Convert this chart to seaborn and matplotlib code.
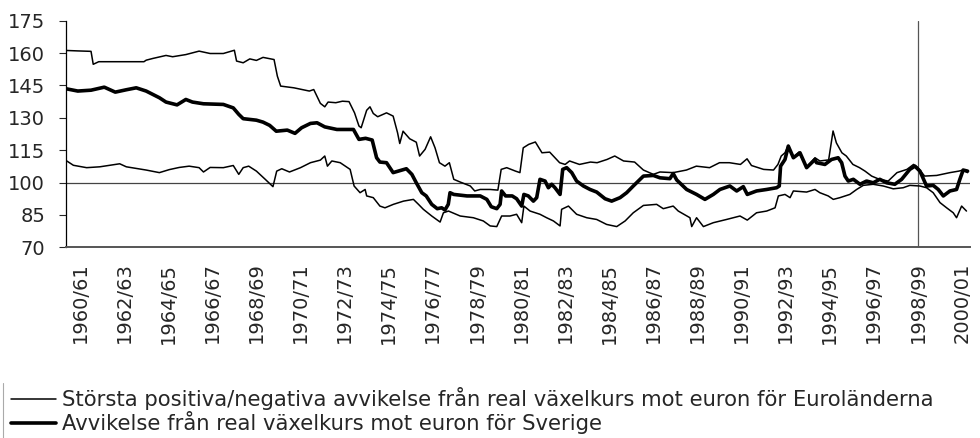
import numpy as np
import pandas as pd
import matplotlib
matplotlib.use('Agg')
import matplotlib.pyplot as plt
from matplotlib.lines import Line2D
import seaborn as sns

# övre gräns (största positiva avvikelse)
upper_years = [1960.4, 1960.9, 1961.5, 1961.6, 1961.85, 1963.9, 1964.0, 1964.3, 1964.9, 1965.2,
               1965.8, 1966.4, 1966.9, 1967.5, 1968.0, 1968.1, 1968.4, 1968.7, 1969.0, 1969.3,
               1969.8, 1969.95, 1970.1, 1970.7, 1971.4, 1971.6, 1971.9, 1972.1, 1972.25, 1972.6,
               1972.9, 1973.2, 1973.45, 1973.65, 1973.75, 1974.0, 1974.15, 1974.3, 1974.5, 1974.9,
               1975.2, 1975.4, 1975.5, 1975.65, 1975.95, 1976.25, 1976.4, 1976.65, 1976.9, 1977.1,
               1977.3, 1977.55, 1977.75, 1977.95, 1978.25, 1978.7, 1978.9, 1979.15, 1979.6, 1979.95,
               1980.1, 1980.35, 1980.75, 1980.95, 1981.1, 1981.35, 1981.65, 1981.95, 1982.3, 1982.75,
               1983.0, 1983.2, 1983.65, 1984.15, 1984.45, 1984.9, 1985.25, 1985.65, 1986.15, 1986.55,
               1987.0, 1987.3, 1987.9, 1988.5, 1988.95, 1989.55, 1990.0, 1990.45, 1990.95, 1991.25,
               1991.45, 1992.0, 1992.45, 1992.65, 1992.8, 1992.97, 1993.12, 1993.35, 1993.6, 1993.95,
               1994.33, 1994.55, 1994.95, 1995.15, 1995.3, 1995.55, 1995.75, 1996.05, 1996.35, 1996.6,
               1996.9, 1997.25, 1997.65, 1998.05, 1998.5, 1998.8, 1999.0, 1999.3, 1999.85, 2000.45,
               2000.85, 2001.05, 2001.25]
upper_vals = [161.2, 161.0, 160.8, 154.8, 156.0, 156.0, 156.7, 157.5, 158.9, 158.3,
              159.3, 160.9, 159.8, 159.8, 161.3, 156.3, 155.5, 157.3, 156.6, 158.0,
              157.0, 149.3, 144.7, 143.9, 142.4, 143.1, 136.7, 135.1, 137.3, 137.0,
              137.7, 137.5, 132.3, 126.2, 125.4, 133.5, 135.1, 132.0, 130.5, 132.3,
              130.8, 123.1, 118.1, 123.8, 120.3, 118.7, 112.3, 115.4, 121.2, 116.1,
              109.2, 107.6, 109.2, 101.5, 100.2, 98.4, 96.1, 96.8, 96.8, 96.5,
              106.1, 106.9, 105.3, 104.6, 116.1, 117.7, 118.8, 113.8, 114.1, 109.2,
              108.4, 110.0, 108.4, 109.5, 109.2, 110.7, 112.3, 110.0, 109.5, 105.8,
              103.8, 104.9, 104.6, 105.8, 107.6, 106.9, 109.2, 109.2, 108.4, 111.0,
              107.9, 106.1, 105.8, 108.4, 112.3, 113.8, 117.2, 111.5, 114.1, 106.9,
              111.5, 110.0, 110.5, 123.9, 118.4, 113.8, 112.3, 108.4, 106.9, 105.3,
              103.0, 101.5, 100.7, 104.6, 106.1, 108.4, 106.9, 103.0, 103.3, 104.6,
              105.3, 105.8, 104.6]

# Sverige
sweden_years = [1960.4, 1960.9, 1961.5, 1962.1, 1962.6, 1963.1, 1963.55, 1964.0, 1964.6, 1964.9,
                1965.4, 1965.8, 1966.1, 1966.6, 1967.5, 1967.95, 1968.2, 1968.4, 1969.0, 1969.3,
                1969.6, 1969.9, 1970.4, 1970.75, 1971.05, 1971.45, 1971.75, 1972.1, 1972.65, 1973.4,
                1973.65, 1973.95, 1974.25, 1974.45, 1974.6, 1974.9, 1975.2, 1975.6, 1975.8, 1976.05,
                1976.25, 1976.5, 1976.7, 1976.95, 1977.2, 1977.4, 1977.55, 1977.7, 1977.78, 1977.95,
                1978.55, 1979.15, 1979.45, 1979.65, 1979.9, 1980.05, 1980.12, 1980.3, 1980.6, 1980.8,
                1981.03, 1981.13, 1981.33, 1981.56, 1981.71, 1981.86, 1982.09, 1982.24, 1982.39, 1982.54,
                1982.77, 1982.89, 1983.07, 1983.3, 1983.52, 1983.83, 1984.13, 1984.43, 1984.81, 1985.11,
                1985.49, 1985.79, 1986.09, 1986.32, 1986.55, 1987.0, 1987.3, 1987.75, 1987.9, 1988.06,
                1988.51, 1988.96, 1989.34, 1989.72, 1990.02, 1990.47, 1990.78, 1991.08, 1991.26, 1991.68,
                1992.14, 1992.59, 1992.71, 1992.77, 1992.97, 1993.12, 1993.35, 1993.65, 1993.95, 1994.33,
                1994.4, 1994.78, 1995.08, 1995.38, 1995.54, 1995.69, 1995.84, 1996.07, 1996.37, 1996.67,
                1996.97, 1997.27, 1997.58, 1997.95, 1998.26, 1998.63, 1998.86, 1999.09, 1999.39, 1999.69,
                1999.92, 2000.15, 2000.45, 2000.75, 2000.9, 2001.05, 2001.25]
sweden_vals = [143.4, 142.4, 142.8, 144.2, 141.9, 143.0, 143.9, 142.4, 139.3, 137.3,
               136.0, 138.5, 137.3, 136.5, 136.2, 134.6, 131.6, 129.6, 128.9, 128.0,
               126.5, 123.8, 124.3, 122.8, 125.4, 127.4, 127.7, 125.8, 124.6, 124.6,
               120.0, 120.5, 119.7, 111.5, 109.5, 109.2, 104.6, 105.8, 106.4, 103.8,
               99.9, 95.3, 93.8, 89.9, 87.9, 88.3, 87.3, 89.9, 95.3, 94.5,
               93.8, 93.8, 92.2, 88.8, 87.9, 89.9, 96.1, 93.8, 93.8, 92.5,
               89.1, 94.5, 93.8, 91.4, 93.0, 101.5, 100.7, 97.6, 99.2, 97.6,
               94.5, 106.1, 106.9, 104.6, 100.7, 98.4, 96.8, 95.6, 92.5, 91.4,
               93.0, 95.3, 98.4, 100.7, 103.0, 103.3, 102.2, 101.8, 104.2, 101.2,
               96.8, 94.5, 92.2, 94.5, 96.8, 98.4, 96.1, 98.1, 94.5, 96.1,
               96.8, 97.6, 98.4, 107.6, 110.7, 116.9, 111.5, 113.8, 106.9, 110.7,
               109.2, 108.4, 110.7, 111.5, 109.2, 103.0, 100.7, 101.5, 99.2, 100.7,
               99.9, 101.5, 99.9, 99.2, 101.5, 106.1, 107.6, 105.3, 98.4, 98.7,
               96.8, 93.8, 96.1, 96.8, 101.5, 105.8, 105.3]

# undre gräns (största negativa avvikelse)
lower_years = [1960.4, 1960.7, 1961.3, 1961.9, 1962.8, 1963.1, 1964.0, 1964.6, 1965.05, 1965.5,
               1965.95, 1966.4, 1966.6, 1966.9, 1967.5, 1967.95, 1968.2, 1968.4, 1968.65, 1969.0,
               1969.4, 1969.75, 1969.92, 1970.15, 1970.5, 1971.0, 1971.45, 1971.9, 1972.1, 1972.22,
               1972.42, 1972.8, 1973.25, 1973.43, 1973.7, 1973.93, 1974.0, 1974.3, 1974.6, 1974.83,
               1975.21, 1975.67, 1976.12, 1976.35, 1976.57, 1976.95, 1977.33, 1977.48, 1977.71, 1978.24,
               1978.84, 1979.29, 1979.6, 1979.9, 1980.12, 1980.5, 1980.8, 1981.03, 1981.13, 1981.41,
               1981.86, 1982.16, 1982.47, 1982.77, 1982.84, 1983.15, 1983.52, 1983.98, 1984.43, 1984.88,
               1985.34, 1985.72, 1986.09, 1986.55, 1987.15, 1987.45, 1987.9, 1988.13, 1988.66, 1988.74,
               1988.96, 1989.27, 1989.72, 1990.32, 1990.93, 1991.26, 1991.68, 1992.14, 1992.52, 1992.67,
               1992.97, 1993.2, 1993.35, 1993.95, 1994.33, 1994.55, 1994.93, 1995.16, 1995.46, 1995.91,
               1996.22, 1996.52, 1996.97, 1997.43, 1997.88, 1998.33, 1998.63, 1999.09, 1999.39, 1999.69,
               2000.0, 2000.3, 2000.6, 2000.75, 2000.98, 2001.2]
lower_vals = [110.0, 108.0, 106.9, 107.3, 108.7, 107.3, 105.8, 104.6, 106.0, 107.0,
              107.6, 106.9, 104.9, 107.0, 106.9, 107.9, 103.8, 106.9, 107.6, 105.3,
              101.5, 98.1, 105.3, 106.4, 104.9, 106.9, 109.2, 110.4, 112.3, 107.6,
              110.0, 109.2, 106.1, 98.4, 95.3, 96.8, 93.8, 93.0, 89.1, 88.3,
              89.9, 91.4, 92.2, 89.9, 87.6, 84.5, 81.7, 86.0, 86.8, 84.5,
              83.7, 82.2, 79.9, 79.6, 84.5, 84.5, 85.3, 81.4, 89.1, 86.8,
              85.3, 83.7, 82.2, 79.9, 87.6, 89.1, 85.3, 83.7, 82.9, 80.6,
              79.6, 82.2, 86.0, 89.4, 89.9, 87.9, 89.1, 86.8, 83.7, 79.6,
              83.7, 79.6, 81.4, 82.9, 84.5, 82.6, 86.0, 86.8, 88.3, 93.8,
              94.5, 93.0, 96.1, 95.6, 96.8, 95.3, 93.8, 92.2, 93.0, 94.5,
              96.8, 98.7, 99.2, 98.4, 97.1, 97.6, 98.7, 98.4, 97.6, 95.3,
              90.7, 88.3, 86.0, 83.7, 89.1, 86.8]

tick_years = list(range(1961, 2002, 2))
tick_labels = [f"{y - 1}/{str(y)[2:]}" for y in tick_years]
y_ticks = [70, 85, 100, 115, 130, 145, 160, 175]

label_band = 'Största positiva/negativa avvikelse från real växelkurs mot euron för Euroländerna'
label_swe = 'Avvikelse från real växelkurs mot euron för Sverige'

sns.set_style('white')
plt.rcParams['font.family'] = ['DejaVu Sans']

fig = plt.figure(figsize=(9.8, 4.38), dpi=100)
ax = fig.add_axes([66 / 980, 1 - 247.3 / 438, 904 / 980, 226.6 / 438])

df_up = pd.DataFrame({'year': upper_years, 'value': upper_vals})
df_swe = pd.DataFrame({'year': sweden_years, 'value': sweden_vals})
df_low = pd.DataFrame({'year': lower_years, 'value': lower_vals})

ax.axhline(100, color='#444444', lw=0.9, zorder=1)
ax.axvline(1999, color='#555555', lw=0.9, zorder=1)

sns.lineplot(data=df_up, x='year', y='value', ax=ax, color='black', lw=1.1, label=label_band)
sns.lineplot(data=df_low, x='year', y='value', ax=ax, color='black', lw=1.1, label='_nolegend_')
sns.lineplot(data=df_swe, x='year', y='value', ax=ax, color='black', lw=2.6, label=label_swe)

ax.set_xlim(1960.365, 2001.36)
ax.set_ylim(70, 175)
ax.set_xticks(tick_years)
ax.set_xticklabels(tick_labels, rotation=90, fontsize=14)
ax.set_yticks(y_ticks)
ax.set_yticklabels([str(v) for v in y_ticks], fontsize=14)
ax.set_xlabel('')
ax.set_ylabel('')
ax.tick_params(axis='x', length=0, pad=11)
ax.tick_params(axis='y', length=5, width=0.8, pad=10, left=True, direction='out')

for side in ['top', 'right']:
    ax.spines[side].set_visible(False)
ax.spines['left'].set_color('black')
ax.spines['left'].set_linewidth(0.9)
ax.spines['bottom'].set_color('#555555')
ax.spines['bottom'].set_linewidth(1.4)

ax.get_legend().remove()
handles, labels = ax.get_legend_handles_labels()
leg = fig.legend(handles, labels, loc='upper left', bbox_to_anchor=(8 / 980, 1 - 384 / 438),
                 fontsize=15.2, frameon=False, handlelength=2.1,
                 handletextpad=0.3, labelspacing=0.05, borderpad=0.15, borderaxespad=0)
# linjen till vänster om förklaringen
fig.add_artist(Line2D([3 / 980, 3 / 980], [0, 1 - 383 / 438], transform=fig.transFigure,
                      color='#aaaaaa', lw=0.8))

fig.savefig('out.png', dpi=100)
